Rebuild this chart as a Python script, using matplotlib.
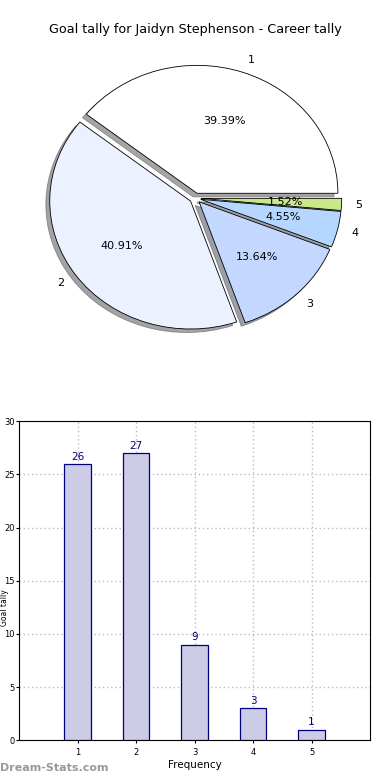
import matplotlib
matplotlib.use('Agg')
import matplotlib.pyplot as plt

# goal tally data
labels = ['1', '2', '3', '4', '5']
counts = [26, 27, 9, 3, 1]
pie_colors = ['#ffffff', '#ebf1ff', '#c4d8ff', '#b4d6ff', '#c8e88a']

fig = plt.figure(figsize=(3.9, 7.8), dpi=100)

# pie on top
ax1 = fig.add_axes([0.049, 0.541, 0.903, 0.41])
ax1.pie(counts, labels=labels, colors=pie_colors, autopct='%.2f%%',
        explode=[0.04] * len(counts), shadow=True, startangle=0,
        wedgeprops={'edgecolor': 'black', 'linewidth': 0.6},
        textprops={'fontsize': 8})
ax1.set_aspect('auto')
ax1.set_xlim(-1.25, 1.25)
ax1.set_ylim(-1.25, 1.25)
fig.text(0.5, 0.962, 'Goal tally for Jaidyn Stephenson - Career tally',
         ha='center', va='center', fontsize=9.2)

# bars below
ax2 = fig.add_axes([0.049, 0.051, 0.9, 0.409])
xs = list(range(1, len(counts) + 1))
ax2.bar(xs, counts, width=0.45, color='#ccccE6', edgecolor='#000080',
        linewidth=0.9, zorder=3)
for x, c in zip(xs, counts):
    ax2.text(x, c + 0.2, str(c), ha='center', va='bottom', color='#000080', fontsize=7.5, zorder=4)
ax2.set_xlim(0, 6)
ax2.set_ylim(0, 30)
ax2.set_xticks(xs)
ax2.set_yticks(range(0, 31, 5))
ax2.tick_params(labelsize=6, length=2)
ax2.tick_params(axis='y', pad=1.2)
ax2.grid(True, linestyle=(0, (1, 2)), color='#bbbbbb', linewidth=1, zorder=0)
ax2.set_xlabel('Frequency', fontsize=7.5, labelpad=2)
ax2.set_ylabel('Goal tally', fontsize=5.5)
ax2.yaxis.set_label_coords(-0.03, 0.417)

fig.text(0.0, 0.012, 'Dream-Stats.com', color='#999999', fontsize=8, fontweight='bold')

fig.savefig('out.png', dpi=100)
